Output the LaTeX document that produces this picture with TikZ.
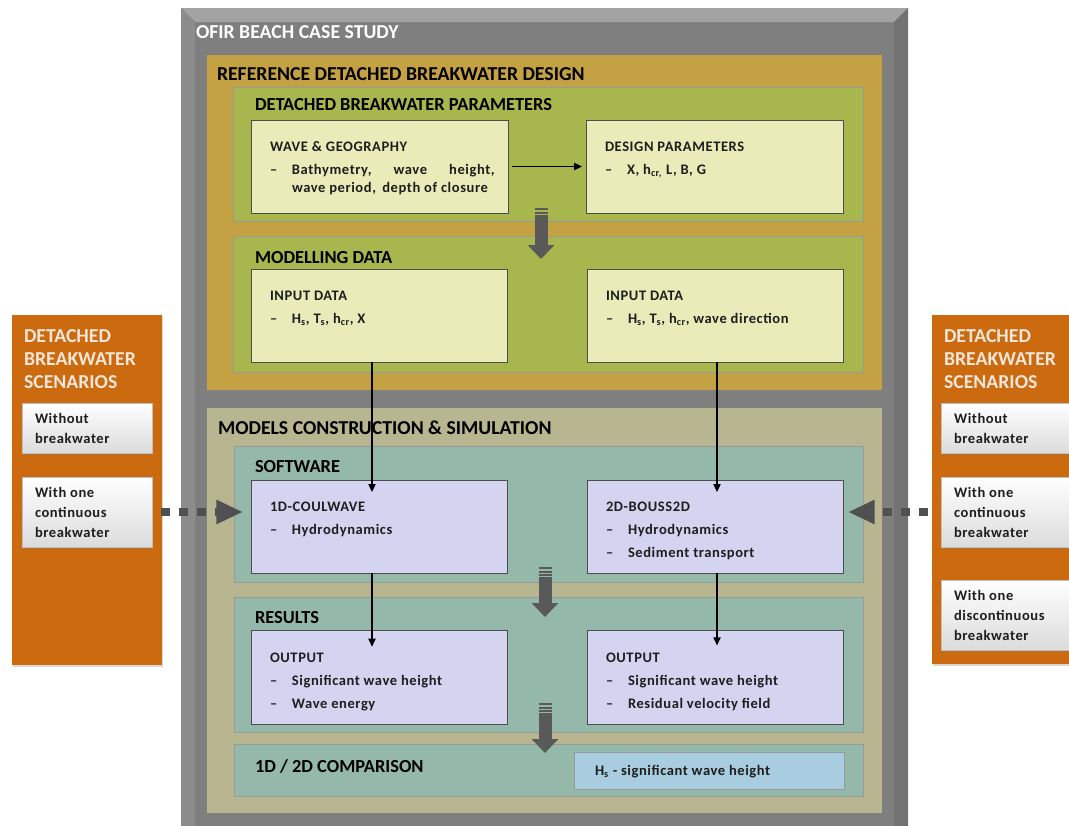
\documentclass[tikz,border=0pt]{standalone}
\usepackage{fontspec}
\setmainfont{Carlito}
\newfontfamily\bx[LetterSpace=4]{Carlito}
\usetikzlibrary{arrows.meta,fit,shadows}
\definecolor{cgray}{HTML}{7F7F7F}
\definecolor{cbevel}{HTML}{A3A3A3}
\definecolor{cbevelL}{HTML}{8C8C8C}
\definecolor{cbevelR}{HTML}{727272}
\definecolor{cgold}{HTML}{C4A244}
\definecolor{cgreen}{HTML}{A8B74D}
\definecolor{cpale}{HTML}{E9ECB9}
\definecolor{ckhaki}{HTML}{B7B690}
\definecolor{cteal}{HTML}{94B8A9}
\definecolor{clav}{HTML}{D4D4F1}
\definecolor{cblue}{HTML}{A9CDE0}
\definecolor{corange}{HTML}{CC6A10}
\definecolor{ctitle}{HTML}{F3E6DA}
\definecolor{cbord}{HTML}{4D4D4D}
\definecolor{carrow}{HTML}{595959}
\definecolor{cdark}{HTML}{505050}
\definecolor{ctext}{HTML}{1E1E1E}
\newcommand{\itm}{\makebox[16.5pt][l]{–}}
\newcommand{\sbs}[1]{\textsubscript{#1}}
\newcommand{\toplines}[1]{\begin{tabular}[t]{@{}l@{}}#1\end{tabular}}
\begin{document}
\begin{tikzpicture}[x=0.75pt,y=-0.75pt,
  every node/.style={inner sep=0pt,outer sep=0pt},
  reg/.style={fit={#1},inner sep=0pt,line width=0.6pt},
  inbox/.style={draw=cbord,line width=0.75pt},
  scen/.style={draw=black!25,line width=0.4pt,top color=white,bottom color=black!14,
    drop shadow={shadow xshift=1pt,shadow yshift=-1.5pt,opacity=0.35}},
  bigt/.style={anchor=base west,font=\fontsize{14.8}{17}\selectfont\bfseries},
  sect/.style={anchor=base west,font=\fontsize{13.8}{16}\selectfont\bfseries},
  body/.style={anchor=base west,font=\bx\fontsize{10.9}{13.5}\selectfont\bfseries,text=ctext},
  scent/.style={anchor=base west,font=\bx\fontsize{10.9}{15}\selectfont\bfseries,text=ctext},
  otitle/.style={anchor=base west,font=\fontsize{14.8}{17.25}\selectfont\bfseries,text=ctitle},
  conn/.style={-{Triangle[length=6pt,width=5.5pt]},line width=0.8pt,black},
  blk/.style={line width=9.75pt,draw=carrow,-{Triangle[length=10.5pt,width=19.5pt]}},
  dotarrow/.style={line width=6pt,draw=cdark,dash pattern=on 6.75pt off 6.75pt,
    -{Triangle[length=20pt,width=17pt]}}]
\useasboundingbox (0,0) rectangle (1069,825);
\fill[white] (0,0) rectangle (1069,825);

% outer frame
\node[reg={(181,8)(908,830)},fill=cgray] (frame) {};
\fill[cbevel] (181,8) -- (908,8) -- (894,22) -- (195,22) -- cycle;
\fill[cbevelL] (181,8) -- (195,22) -- (195,830) -- (181,830) -- cycle;
\fill[cbevelR] (908,8) -- (894,22) -- (894,830) -- (908,830) -- cycle;
\node[bigt,text=white] (tofir) at (196,38) {OFIR BEACH CASE STUDY};

% reference design
\node[reg={(207,55)(882,390)},fill=cgold] (gold) {};
\node[bigt] (tgold) at (217,80) {REFERENCE DETACHED BREAKWATER DESIGN};
\node[reg={(233,87)(863,221)},fill=cgreen,draw=black!40] (dbp) {};
\node[sect] (tdbp) at (255,110) {DETACHED BREAKWATER PARAMETERS};
\node[reg={(251,120)(508,213)},fill=cpale,inbox] (wave) {};
\node[reg={(586,120)(843,213)},fill=cpale,inbox] (design) {};
\node[body] (wavet) at ([shift={(19,31)}]wave.north west)
  {\toplines{WAVE \& GEOGRAPHY\\[4pt]
   \itm\makebox[152pt][s]{Bathymetry,\hfill wave\hfill height,}\\
   \hspace*{16.5pt}wave period,\, depth of closure}};
\node[body] (designt) at ([shift={(19,31)}]design.north west)
  {\toplines{DESIGN PARAMETERS\\[4pt]\itm X, h\sbs{cr,} L, B, G}};

\node[reg={(233,236)(863,372)},fill=cgreen,draw=black!40] (mdata) {};
\node[sect] (tmdata) at (255,263) {MODELLING DATA};
\node[reg={(251,269)(507,362)},fill=cpale,inbox] (inL) {};
\node[reg={(587,269)(843,362)},fill=cpale,inbox] (inR) {};
\node[body] (inLt) at ([shift={(19,31)}]inL.north west)
  {\toplines{INPUT DATA\\[4pt]\itm H\sbs{s}, T\sbs{s}, h\sbs{cr}, X}};
\node[body] (inRt) at ([shift={(19,31)}]inR.north west)
  {\toplines{INPUT DATA\\[4pt]\itm H\sbs{s}, T\sbs{s}, h\sbs{cr}, wave direction}};

% models construction
\node[reg={(207,408)(882,813)},fill=ckhaki] (khaki) {};
\node[bigt] (tkhaki) at (218,434) {MODELS CONSTRUCTION \& SIMULATION};
\node[reg={(234,446)(863,582)},fill=cteal,draw=black!40] (soft) {};
\node[sect] (tsoft) at (255,472) {SOFTWARE};
\node[reg={(251,480)(507,573)},fill=clav,inbox] (c1d) {};
\node[reg={(587,480)(843,573)},fill=clav,inbox] (c2d) {};
\node[body] (c1dt) at ([shift={(19,31)}]c1d.north west)
  {\toplines{1D-COULWAVE\\[4pt]\itm Hydrodynamics}};
\node[body] (c2dt) at ([shift={(19,31)}]c2d.north west)
  {\toplines{2D-BOUSS2D\\[4pt]\itm Hydrodynamics\\[4pt]\itm Sediment transport}};

\node[reg={(234,597)(863,732)},fill=cteal,draw=black!40] (res) {};
\node[sect] (tres) at (255,623) {RESULTS};
\node[reg={(251,630)(507,724)},fill=clav,inbox] (outL) {};
\node[reg={(587,630)(843,724)},fill=clav,inbox] (outR) {};
\node[body] (outLt) at ([shift={(19,32)}]outL.north west)
  {\toplines{OUTPUT\\[4pt]\itm Significant wave height\\[4pt]\itm Wave energy}};
\node[body] (outRt) at ([shift={(19,32)}]outR.north west)
  {\toplines{OUTPUT\\[4pt]\itm Significant wave height\\[4pt]\itm Residual velocity field}};

\node[reg={(234,744)(863,796)},fill=cteal,draw=black!40] (comp) {};
\node[sect] (tcomp) at (255,772) {1D / 2D COMPARISON};
\node[reg={(574,752)(844,789)},fill=cblue,draw=black!40] (hs) {};
\node[body] (hst) at (595,775) {H\sbs{s} - significant wave height};

% scenario panels
\node[reg={(12,315)(162,665)},fill=corange,drop shadow={shadow xshift=1pt,shadow yshift=-1.5pt,opacity=0.3}] (lpan) {};
\node[otitle] (lpant) at (24,342) {\toplines{DETACHED\\BREAKWATER\\SCENARIOS}};
\node[reg={(22,403)(152,453)},scen] (lb1) {};
\node[reg={(22,477)(152,547)},scen] (lb2) {};
\node[scent] (lb1t) at (35,423) {\toplines{Without\\breakwater}};
\node[scent] (lb2t) at (35,497) {\toplines{With one\\continuous\\breakwater}};

\node[reg={(932,315)(1085,664)},fill=corange,drop shadow={shadow xshift=1pt,shadow yshift=-1.5pt,opacity=0.3}] (rpan) {};
\node[otitle] (rpant) at (944,342) {\toplines{DETACHED\\BREAKWATER\\SCENARIOS}};
\node[reg={(941,403)(1085,453)},scen] (rb1) {};
\node[reg={(941,477)(1085,547)},scen] (rb2) {};
\node[reg={(941,580)(1085,650)},scen] (rb3) {};
\node[scent] (rb1t) at (954,423) {\toplines{Without\\breakwater}};
\node[scent] (rb2t) at (954,497) {\toplines{With one\\continuous\\breakwater}};
\node[scent] (rb3t) at (954,600) {\toplines{With one\\discontinuous\\breakwater}};

% thin connectors
\draw[conn,shorten <=3pt,shorten >=3pt] (wave.east) -- (design.west);
\draw[conn] ([xshift=-5.25pt]inL.south) -- ([xshift=-5.25pt,yshift=-9pt]c1d.north);
\draw[conn] ([xshift=1.5pt]inR.south) -- ([xshift=1.5pt,yshift=-9pt]c2d.north);
\draw[conn] ([xshift=-5.25pt]c1d.south) -- ([xshift=-5.25pt,yshift=-12.5pt]outL.north);
\draw[conn] ([xshift=1.5pt]c2d.south) -- ([xshift=1.5pt,yshift=-11.5pt]outR.north);

% block arrows
\coordinate (a1s) at (541,217);
\coordinate (a1e) at (541,259);
\coordinate (a2s) at (545,577);
\coordinate (a2e) at (545,617);
\coordinate (a3s) at (545,713);
\coordinate (a3e) at (545,753);
\foreach \x/\y in {541/208,545/567,545/703}{
  \fill[carrow] (\x-6.5,\y) rectangle (\x+6.5,\y+2);
  \fill[carrow] (\x-6.5,\y+3.5) rectangle (\x+6.5,\y+5.5);
  \fill[carrow] (\x-6.5,\y+7) rectangle (\x+6.5,\y+9);
}
\draw[blk] (a1s) -- (a1e);
\draw[blk] (a2s) -- (a2e);
\draw[blk] (a3s) -- (a3e);

% dotted arrows
\draw[dotarrow,shorten <=6.75pt,shorten >=6pt] (lb2.east) -- (lb2.east -| c1d.west);
\draw[dotarrow,shorten <=9.75pt,shorten >=3.75pt] (rb2.west) -- (rb2.west -| c2d.east);
\end{tikzpicture}
\end{document}
